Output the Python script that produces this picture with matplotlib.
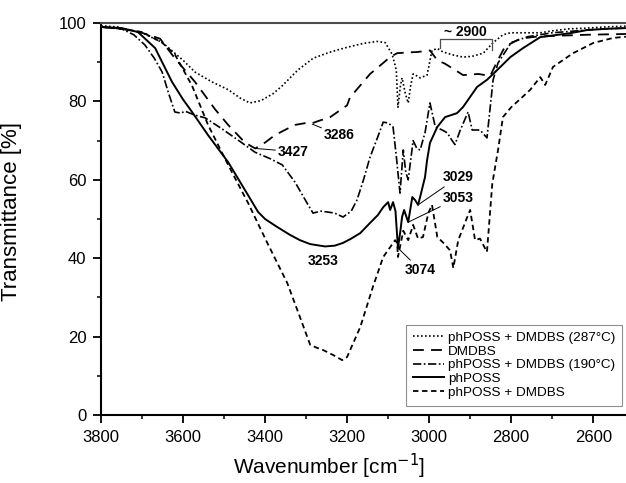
#!/usr/bin/env python3
"""FTIR transmittance spectra, 3800-2520 cm-1: phPOSS, DMDBS and their blends."""
import matplotlib

matplotlib.use("Agg")
import matplotlib.pyplot as plt

plt.rcParams["font.family"] = ["Liberation Sans", "DejaVu Sans"]

# phPOSS + DMDBS (287 C), dotted
wn_287 = [3800, 3760, 3700, 3650, 3600, 3571, 3530, 3490, 3460, 3437, 3410, 3380,
          3358, 3320, 3283, 3241, 3200, 3160, 3127, 3107, 3090, 3080, 3076, 3070,
          3066, 3058, 3051, 3045, 3039, 3030, 3022, 3005, 2993, 2980, 2966, 2940,
          2917, 2895, 2868, 2844, 2820, 2802, 2760, 2729, 2700, 2660, 2615, 2570, 2520]
t_287 = [99.3, 99.0, 97.5, 95.0, 90.5, 87.5, 85.0, 83.0, 80.8, 79.6, 80.2, 82.0,
         84.0, 88.0, 91.0, 92.6, 93.8, 94.8, 95.3, 95.0, 92.0, 88.0, 78.5, 84.0,
         86.0, 82.0, 79.6, 84.0, 87.0, 86.5, 86.0, 86.7, 93.0, 93.5, 92.6, 91.8,
         91.3, 91.5, 92.3, 95.0, 97.0, 97.5, 97.5, 97.5, 98.0, 98.5, 98.7, 99.0, 99.2]

# DMDBS, long dashes
wn_dm = [3800, 3750, 3700, 3656, 3620, 3571, 3522, 3490, 3449, 3424, 3400, 3376,
         3350, 3327, 3300, 3286, 3270, 3241, 3200, 3193, 3144, 3095, 3078, 3050,
         3029, 2998, 2980, 2961, 2917, 2880, 2851, 2835, 2815, 2778, 2740, 2700,
         2615, 2520]
t_dm = [99.0, 98.5, 97.5, 96.0, 91.0, 85.0, 78.0, 74.0, 69.5, 68.0, 69.5, 71.4,
        72.8, 74.0, 74.5, 74.4, 75.0, 76.0, 79.0, 81.0, 87.0, 91.3, 92.3, 92.5,
        92.6, 93.0, 90.5, 89.6, 86.7, 87.0, 86.5, 90.0, 94.0, 96.0, 96.5, 96.7,
        97.0, 97.2]

# phPOSS + DMDBS (190 C), dash-dot
wn_190 = [3800, 3750, 3720, 3693, 3670, 3651, 3635, 3620, 3605, 3595, 3571, 3546,
          3505, 3456, 3424, 3390, 3358, 3327, 3295, 3283, 3265, 3249, 3230, 3210,
          3190, 3176, 3160, 3144, 3125, 3112, 3100, 3088, 3080, 3071, 3063, 3057,
          3051, 3039, 3030, 3022, 3010, 2998, 2985, 2968, 2956, 2944, 2937, 2924,
          2905, 2895, 2876, 2859, 2844, 2832, 2800, 2760, 2700, 2640, 2580, 2520]
t_190 = [99.0, 98.5, 97.0, 94.4, 91.0, 87.5, 82.0, 77.3, 77.0, 77.5, 76.5, 75.8,
         73.0, 69.4, 67.0, 65.5, 63.8, 59.4, 53.6, 51.5, 52.0, 51.8, 51.5, 50.5,
         52.0, 54.8, 60.0, 65.8, 71.0, 74.7, 74.5, 73.5, 66.0, 56.6, 67.6, 62.0,
         60.0, 70.0, 68.0, 67.6, 72.0, 79.6, 73.5, 72.7, 72.0, 70.0, 69.0, 72.7,
         77.3, 72.7, 72.7, 70.7, 85.5, 89.8, 95.0, 96.5, 97.5, 98.0, 98.5, 98.7]

# phPOSS, solid
wn_ph = [3800, 3750, 3710, 3668, 3627, 3600, 3578, 3539, 3490, 3441, 3417, 3400,
         3371, 3340, 3315, 3290, 3254, 3230, 3210, 3190, 3168, 3144, 3125, 3112,
         3100, 3095, 3088, 3082, 3076, 3070, 3066, 3061, 3051, 3041, 3034, 3027,
         3022, 3010, 3005, 2998, 2980, 2961, 2932, 2917, 2883, 2859, 2834, 2802,
         2771, 2729, 2656, 2615, 2570, 2520]
t_ph = [99.0, 98.7, 97.7, 93.6, 85.0, 80.5, 77.3, 71.4, 64.5, 56.0, 51.8, 50.0,
        48.0, 46.0, 44.6, 43.6, 43.0, 43.2, 43.9, 45.0, 46.4, 49.0, 51.0, 53.0,
        54.3, 52.3, 54.3, 52.0, 42.6, 47.0, 50.5, 52.3, 49.2, 55.6, 54.8, 53.6,
        55.6, 60.7, 65.0, 69.4, 73.5, 76.0, 77.0, 78.6, 83.7, 85.5, 88.0, 91.3,
        93.6, 96.4, 97.4, 98.2, 98.5, 98.7]

# phPOSS + DMDBS, short dashes
wn_mix = [3800, 3750, 3700, 3651, 3620, 3578, 3539, 3490, 3441, 3395, 3346, 3315,
          3290, 3275, 3259, 3234, 3212, 3200, 3168, 3137, 3112, 3083, 3078, 3076,
          3063, 3051, 3039, 3027, 3015, 3002, 2993, 2980, 2966, 2949, 2941, 2929,
          2907, 2900, 2888, 2876, 2859, 2846, 2832, 2820, 2800, 2778, 2754, 2729,
          2717, 2698, 2649, 2600, 2551, 2520]
t_mix = [99.0, 98.5, 97.7, 95.0, 92.0, 84.0, 74.0, 63.8, 54.0, 44.0, 33.7, 25.0,
         17.9, 17.2, 16.6, 15.3, 14.0, 14.8, 22.4, 32.7, 40.3, 44.6, 43.9, 40.3,
         47.0, 44.6, 48.5, 45.0, 45.4, 51.5, 53.6, 45.4, 44.0, 42.0, 37.5, 44.6,
         50.5, 52.3, 44.6, 45.0, 41.6, 59.0, 67.6, 76.0, 78.5, 80.6, 82.9, 86.2,
         84.2, 88.8, 92.3, 94.9, 96.2, 96.5]

# peak labels: text, peak (wn, T), text anchor (wn, T), leader line drawn?
peak_labels = [
    ("3427", (3424, 68.0), (3368, 67.2), True),
    ("3286", (3285, 74.2), (3256, 71.4), True),
    ("3253", (3259, 39.3), (3259, 39.3), False),
    ("3074", (3076, 42.6), (3059, 37.0), True),
    ("3029", (3027, 53.6), (2966, 60.7), True),
    ("3053", (3051, 49.2), (2966, 55.4), True),
]

fig = plt.figure(figsize=(6.26, 4.83), dpi=100)
ax = fig.add_axes([101 / 626, 68 / 483, 525 / 626, 392 / 483])

ax.plot(wn_287, t_287, color="k", lw=1.2, ls=(0, (1, 1.4)),
        label="phPOSS + DMDBS (287\u00b0C)")
ax.plot(wn_dm, t_dm, color="k", lw=1.3, ls=(0, (6, 4)), label="DMDBS")
ax.plot(wn_190, t_190, color="k", lw=1.2, ls=(0, (5, 1.5, 1, 1.5)),
        label="phPOSS + DMDBS (190\u00b0C)")
ax.plot(wn_ph, t_ph, color="k", lw=1.4, label="phPOSS")
ax.plot(wn_mix, t_mix, color="k", lw=1.3, ls=(0, (3, 2)), label="phPOSS + DMDBS")

for txt, peak, pos, leader in peak_labels:
    if leader:
        ha = "left" if pos[0] < peak[0] else "center"
        ax.annotate(txt, xy=peak, xytext=pos, fontsize=10, fontweight="bold",
                    ha=ha, va="center",
                    arrowprops=dict(arrowstyle="-", color="k", lw=0.7,
                                    shrinkA=0, shrinkB=0))
    else:
        ax.text(*pos, txt, fontsize=10, fontweight="bold", ha="center", va="center")

# ~2900 bracket
ax.plot([2973, 2973, 2846, 2846], [93.5, 95.9, 95.9, 93.0], color="0.3", lw=0.9)
ax.text(2912, 97.6, "~ 2900", fontsize=10, fontweight="bold", ha="center", va="center")

ax.set_xlim(3800, 2520)
ax.set_ylim(0, 100)
ax.set_xticks([3800, 3600, 3400, 3200, 3000, 2800, 2600])
ax.set_xticks(range(3700, 2520, -200), minor=True)
ax.set_yticks(range(0, 101, 20))
ax.set_yticks(range(10, 100, 20), minor=True)
ax.tick_params(which="major", length=5.5, width=1.3, labelsize=12, pad=5)
ax.tick_params(which="minor", length=3, width=1.1)
for side in ("left", "bottom"):
    ax.spines[side].set_linewidth(1.5)
ax.spines["top"].set_linewidth(1.5)
ax.spines["top"].set_color("0.3")
ax.spines["right"].set_visible(False)

ax.set_xlabel("Wavenumber [cm$^{-1}$]", fontsize=15)
ax.set_ylabel("Transmittance [%]", fontsize=16)
ax.xaxis.set_label_coords(0.434, -0.093)
ax.yaxis.set_label_coords(-0.150, 0.52)

leg = ax.legend(loc="lower right", bbox_to_anchor=(0.993, 0.024), fontsize=9.7,
                frameon=True, fancybox=False, edgecolor="0.45", handlelength=2.3,
                handletextpad=0.3, labelspacing=0.1, borderpad=0.5,
                borderaxespad=0)
leg.get_frame().set_linewidth(0.8)

fig.savefig("out.png", dpi=100)
